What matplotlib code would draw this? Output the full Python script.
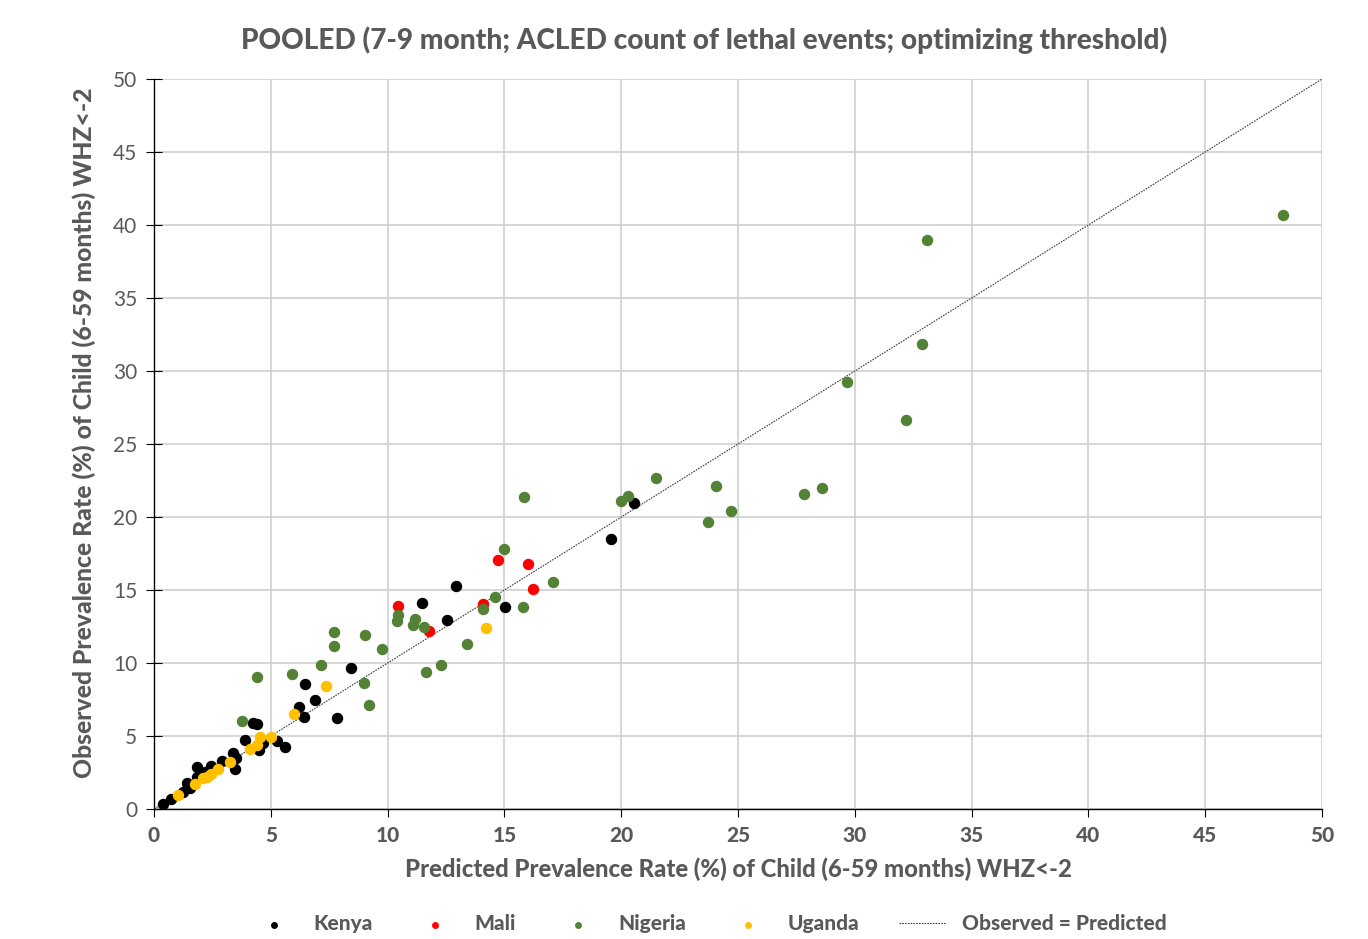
import matplotlib.pyplot as plt

# predicted (x) / observed (y) prevalence
kenya_x = [0.37, 0.71, 1.26, 1.40, 1.54, 1.83, 1.83, 2.18, 2.43, 2.90, 3.37, 3.51, 3.47,
           3.90, 4.25, 4.39, 4.68, 4.51, 5.25, 5.61, 6.46, 6.91, 6.22, 6.42, 7.83, 8.43,
           11.49, 12.56, 12.93, 15.03, 19.55, 20.55]
kenya_y = [0.34, 0.68, 1.19, 1.76, 1.41, 2.85, 2.21, 2.56, 2.95, 3.31, 3.81, 3.47, 2.72,
           4.73, 5.87, 5.80, 4.54, 4.04, 4.68, 4.27, 8.54, 7.47, 6.96, 6.32, 6.21, 9.63,
           14.09, 12.95, 15.27, 13.86, 18.47, 20.94]

mali_x = [10.46, 11.79, 14.10, 14.74, 16.02, 16.24]
mali_y = [13.90, 12.19, 14.04, 17.05, 16.78, 15.07]

nigeria_x = [3.75, 4.39, 5.92, 7.13, 7.69, 7.69, 9.05, 9.76, 8.98, 9.19, 10.45, 10.39,
             11.15, 11.07, 11.57, 11.63, 12.27, 13.38, 14.10, 14.60, 14.98, 15.78, 17.09,
             15.84, 20.00, 20.28, 21.50, 24.04, 24.69, 23.73, 27.83, 28.61, 29.67, 32.18,
             32.89, 33.08, 48.33]
nigeria_y = [6.05, 9.06, 9.25, 9.86, 12.12, 11.19, 11.94, 10.94, 8.61, 7.10, 13.26, 12.85,
             12.99, 12.63, 12.44, 9.36, 9.86, 11.30, 13.70, 14.50, 17.79, 13.81, 15.53,
             21.35, 21.12, 21.44, 22.69, 22.12, 20.43, 19.68, 21.55, 22.01, 29.22, 26.64,
             31.85, 38.95, 40.68]

uganda_x = [1.01, 1.76, 2.11, 2.28, 2.43, 2.75, 3.25, 4.11, 4.42, 4.54, 5.00, 6.01, 7.38, 14.19]
uganda_y = [0.94, 1.69, 2.10, 2.21, 2.37, 2.72, 3.22, 4.09, 4.41, 4.95, 4.95, 6.53, 8.42, 12.42]

ticks = [0, 5, 10, 15, 20, 25, 30, 35, 40, 45, 50]

grey = '#595959'
fam = 'Lato'
heavy = 900

fig = plt.figure(figsize=(13.68, 9.39), dpi=100)
ax = fig.add_axes([0.1126, 0.1384, 0.8538, 0.7775])

ms = 52
ax.scatter(kenya_x, kenya_y, s=ms, color='black', label='Kenya', zorder=3)
ax.scatter(mali_x, mali_y, s=ms, color='#FF0000', label='Mali', zorder=3)
ax.scatter(nigeria_x, nigeria_y, s=ms, color='#538135', label='Nigeria', zorder=3)
ax.scatter(uganda_x, uganda_y, s=ms, color='#FFC000', label='Uganda', zorder=3)
ax.plot([0, 50], [0, 50], linestyle=(0, (1.5, 1)), color='#404040', linewidth=0.8,
        label='Observed = Predicted', zorder=2)

ax.set_xlim(0, 50)
ax.set_ylim(0, 50)
ax.set_xticks(ticks)
ax.set_yticks(ticks)
ax.set_xticklabels([str(t) for t in ticks], family=fam, fontweight=heavy, fontsize=15)
ax.set_yticklabels([str(t) for t in ticks], family=fam, fontsize=15)
ax.grid(True, color='#D0D0D0', linewidth=1.2)
ax.set_axisbelow(True)
for s in ['top', 'right']:
    ax.spines[s].set_visible(False)
for s in ['left', 'bottom']:
    ax.spines[s].set_color('black')
    ax.spines[s].set_linewidth(1)
ax.tick_params(axis='y', direction='inout', length=12, labelcolor=grey, pad=6)
ax.tick_params(axis='x', direction='out', length=6, labelcolor=grey, pad=6)

ax.set_xlabel('Predicted Prevalence Rate (%) of Child (6-59 months) WHZ<-2',
              family=fam, fontweight=heavy, fontsize=17.2, color=grey, labelpad=9)
ax.set_ylabel('Observed Prevalence Rate (%) of Child (6-59 months) WHZ<-2',
              family=fam, fontweight=heavy, fontsize=17.8, color=grey)
ax.yaxis.set_label_coords(-0.05, 0.516)
fig.text(0.515, 0.957, 'POOLED (7-9 month; ACLED count of lethal events; optimizing threshold)',
         ha='center', va='center', family=fam, fontweight=heavy, fontsize=20.2, color=grey)

leg = fig.legend(loc='center', bbox_to_anchor=(0.518, 0.016), ncol=5, frameon=False,
                 markerscale=0.55, columnspacing=1.9, handletextpad=0.8, handlelength=2.2,
                 prop={'family': fam, 'weight': heavy, 'size': 15})
for t in leg.get_texts():
    t.set_color(grey)

fig.savefig('out.png', dpi=100)
